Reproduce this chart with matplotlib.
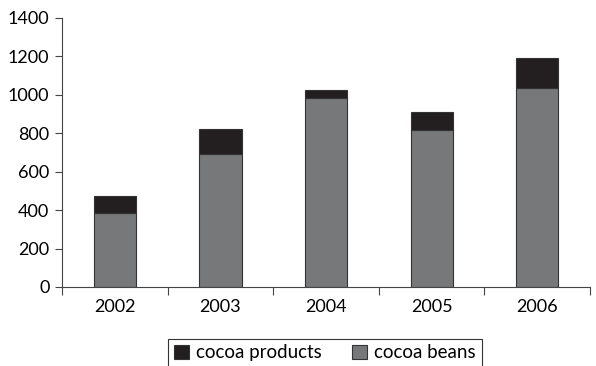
import matplotlib.pyplot as plt
import numpy as np

years = ["2002", "2003", "2004", "2005", "2006"]
cocoa_beans = [387, 691, 983, 818, 1035]
cocoa_products = [88, 132, 43, 95, 159]

plt.rcParams['font.family'] = ['Lato', 'DejaVu Sans']

fig = plt.figure(figsize=(5.96, 3.66), dpi=100)
ax = fig.add_axes([0.104, 0.216, 0.886, 0.735])

x = np.arange(len(years))
ax.bar(x, cocoa_beans, width=0.4, color='#777879', edgecolor='#333333', linewidth=0.8,
       label='cocoa beans')
ax.bar(x, cocoa_products, width=0.4, bottom=cocoa_beans, color='#231f20',
       edgecolor='#333333', linewidth=0.8, label='cocoa products')

ax.set_xlim(-0.5, len(years) - 0.5)
ax.set_ylim(0, 1400)
ax.set_yticks(range(0, 1401, 200))
ax.tick_params(axis='y', labelsize=13, length=5, width=0.8, color='#444444', pad=4)

# category boundary ticks on x, labels at centres
ax.set_xticks(np.arange(-0.5, len(years), 1.0))
ax.set_xticklabels([])
ax.set_xticks(x, minor=True)
ax.set_xticklabels(years, minor=True, fontsize=13)
ax.tick_params(axis='x', which='major', length=6, width=0.8, color='#444444')
ax.tick_params(axis='x', which='minor', length=0, pad=9)

for s in ['top', 'right']:
    ax.spines[s].set_visible(False)
for s in ['left', 'bottom']:
    ax.spines[s].set_color('#444444')
    ax.spines[s].set_linewidth(0.8)

h, l = ax.get_legend_handles_labels()
leg = fig.legend(h[::-1], l[::-1], loc='center', bbox_to_anchor=(0.545, 0.036), ncol=2,
                 frameon=True, fancybox=False, fontsize=13.5, handlelength=0.8,
                 handleheight=0.8, handletextpad=0.4, columnspacing=1.6,
                 borderpad=0.3)
leg.get_frame().set_edgecolor('black')
leg.get_frame().set_linewidth(0.8)

fig.savefig('out.png', dpi=100)
